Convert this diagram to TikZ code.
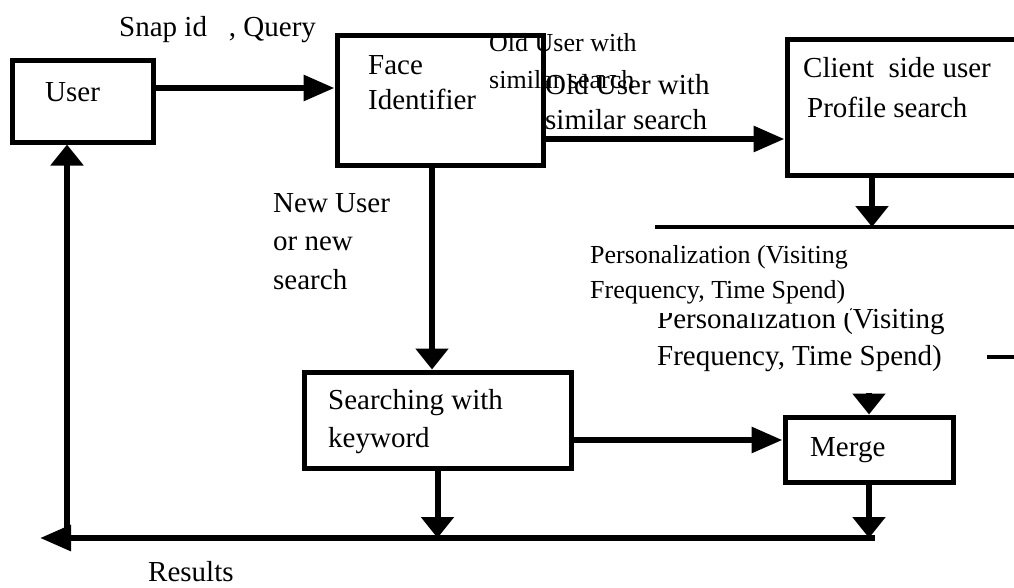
\documentclass[tikz,border=0pt]{standalone}
\usepackage{fontspec}
\setmainfont{Liberation Serif}
\usetikzlibrary{arrows.meta}
\begin{document}
\begin{tikzpicture}[x=1pt,y=-1pt,
    box/.style={draw,line width=5pt,inner sep=0pt},
    harr/.style={line width=6pt,-{Triangle[length=31pt,width=25pt]}},
    varr/.style={line width=6pt,-{Triangle[length=21pt,width=32pt]}},
    ln/.style={line width=4pt},
    txt/.style={anchor=base west,inner sep=0pt,align=left,font=\fontsize{29}{37}\selectfont},
    note/.style={anchor=base west,inner sep=0pt,align=left,font=\fontsize{26}{36}\selectfont}]
    \clip (0,0) rectangle (1014,587);
    \node[box,minimum width=141pt,minimum height=82pt] (user) at (82.5,101) {};
    \node[box,minimum width=206pt,minimum height=130pt] (face) at (440,100) {};
    \node[box,minimum width=253pt,minimum height=136pt] (client) at (913.5,107) {};
    \node[box,minimum width=267pt,minimum height=96pt] (search) at (437.5,420) {};
    \node[box,minimum width=168pt,minimum height=65pt] (merge) at (869,449.5) {};
    \node[txt] (tuser) at (45,101) {User};
    \node[txt,font=\fontsize{29}{35}\selectfont] (tface) at (368,109) {Face\\Identifier};
    \node[txt,font=\fontsize{29}{40}\selectfont] (tclient) at (803,117) {Client\ \ side user\\\hspace{4pt}Profile search};
    \node[txt,font=\fontsize{29}{38}\selectfont] (tsearch) at (328,447) {Searching with\\keyword};
    \node[txt] (tmerge) at (810,456) {Merge};
    \node[txt] (tsnap) at (119,36) {Snap id\hspace{22pt}, Query};
    \node[txt,font=\fontsize{29}{38.5}\selectfont] (tnew) at (273,289) {New User\\or new\\search};
    \node[txt,font=\fontsize{29}{35}\selectfont] (told) at (545,129) {Old User with\\similar search};
    \node[note,font=\fontsize{26}{37}\selectfont] (told2) at (489,88) {Old User with\\similar search};
    \node[txt] (tpers) at (657,365) {Personalization (Visiting\\Frequency, Time Spend)};
    \node[note,fill=white,inner xsep=2pt,inner ysep=9pt,font=\fontsize{26}{35}\selectfont] (tpers2) at (588,298.5) {Personalization (Visiting\\Frequency, Time Spend)};
    \node[txt] (tres) at (148,581) {Results};
    \coordinate (pj) at (872,227);
    \coordinate (pl) at (655,227);
    \coordinate (pr) at (1030,227);
    \coordinate (sl) at (987,357);
    \coordinate (sr) at (1030,357);
    \coordinate (rr) at (875,538);
    \coordinate (rl) at (40,538);
    \coordinate (ru) at (67,538);
    \draw[harr] ([yshift=13pt]user.east) -- ([yshift=12pt]face.west);
    \draw[harr] ([yshift=-39pt]face.east) -- ([yshift=-32pt]client.west);
    \draw[varr] ([xshift=-8pt]face.south) -- ([xshift=-5.5pt]search.north);
    \draw[harr] ([yshift=-20pt]search.east) -- ([yshift=9.5pt]merge.west);
    \draw[varr] (client.south -| pj) -- (pj);
    \draw[ln] (pl) -- (pr);
    \draw[ln] (sl) -- (sr);
    \draw[varr] ([yshift=22pt]merge.north) -- (merge.north);
    \draw[varr] (merge.south) -- (merge.south |- rr);
    \draw[varr] (search.south) -- (search.south |- rr);
    \draw[harr] (rr) -- (rl);
    \draw[varr] (ru) -- (user.south -| ru);
\end{tikzpicture}
\end{document}
